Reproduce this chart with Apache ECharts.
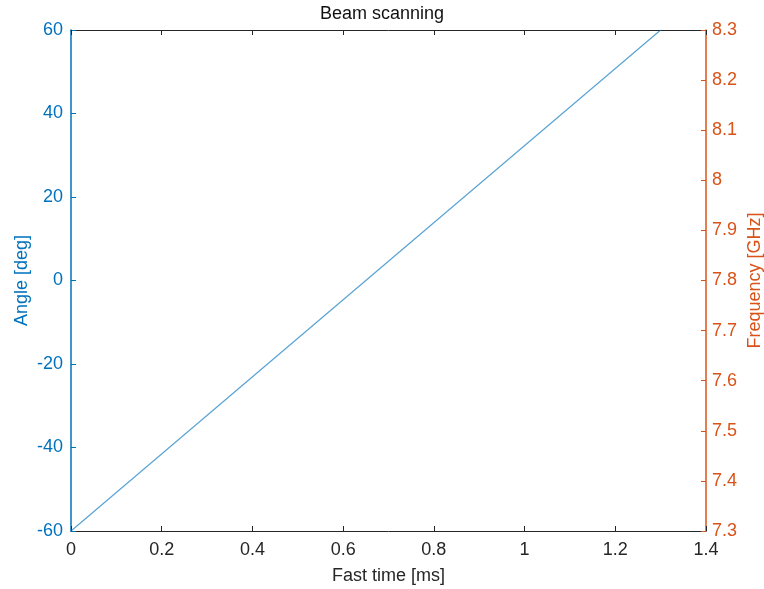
<!DOCTYPE html>
<html>
<head>
<meta charset="utf-8">
<script src="https://cdn.jsdelivr.net/npm/echarts@6/dist/echarts.min.js"></script>
<style>html,body{margin:0;padding:0;background:#fff}#chart{width:764px;height:589px}</style>
</head>
<body>
<div id="chart"></div>
<script>
// Beam steering sweep: angle vs fast time, with the matching frequency scale on the right
const fastTime = [0, 0.6, 1.3];          // ms
const angleDeg = [-60, -4.6, 60];        // deg
const angleTicks = [-60, 60, 20];        // min, max, step
const freqTicks = [7.3, 8.3, 0.1];       // GHz
const timeTicks = [0, 1.4, 0.2];         // ms

const BLUE = '#0072BD';
const ORANGE = '#D95319';
const FONT = 'Liberation Sans, Arial, Helvetica, sans-serif';
const FS = 18;
const fmt = v => String(parseFloat(Number(v).toFixed(2)));

const chart = echarts.init(document.getElementById('chart'), null, {renderer: 'canvas'});
chart.setOption({
  animation: false,
  title: {
    text: 'Beam scanning', left: 'center', top: 0,
    textStyle: {fontFamily: FONT, fontSize: FS, fontWeight: 'normal', color: '#111'}
  },
  grid: {left: 71, right: 58, top: 30, bottom: 58, outerBoundsMode: 'none', containLabel: false},
  xAxis: [{
    type: 'value', position: 'bottom', min: timeTicks[0], max: timeTicks[1], interval: timeTicks[2],
    name: 'Fast time [ms]', nameLocation: 'middle', nameGap: 36, nameMoveOverlap: false,
    nameTextStyle: {fontFamily: FONT, fontSize: FS, color: '#262626'},
    axisLine: {onZero: false, lineStyle: {color: '#262626', width: 1}},
    axisTick: {inside: true, length: 5, lineStyle: {color: '#262626'}},
    axisLabel: {fontFamily: FONT, fontSize: FS, color: '#262626', margin: 10, formatter: fmt},
    splitLine: {show: false}
  }, {
    type: 'value', position: 'top', min: timeTicks[0], max: timeTicks[1], interval: timeTicks[2],
    axisLine: {show: true, onZero: false, lineStyle: {color: '#262626', width: 1}},
    axisTick: {inside: true, length: 5, lineStyle: {color: '#262626'}},
    axisLabel: {show: false},
    splitLine: {show: false}
  }],
  yAxis: [{
    type: 'value', position: 'left', min: angleTicks[0], max: angleTicks[1], interval: angleTicks[2],
    name: 'Angle [deg]', nameLocation: 'middle', nameGap: 40, nameRotate: 90, nameMoveOverlap: false,
    nameTextStyle: {fontFamily: FONT, fontSize: FS, color: BLUE},
    axisLine: {show: true, onZero: false, lineStyle: {color: BLUE, width: 1.5}},
    axisTick: {show: true, inside: true, length: 5, lineStyle: {color: BLUE}},
    axisLabel: {fontFamily: FONT, fontSize: FS, color: BLUE, margin: 8},
    splitLine: {show: false}
  }, {
    type: 'value', position: 'right', min: freqTicks[0], max: freqTicks[1], interval: freqTicks[2],
    name: 'Frequency [GHz]', nameLocation: 'middle', nameGap: 40, nameRotate: 90, nameMoveOverlap: false,
    nameTextStyle: {fontFamily: FONT, fontSize: FS, color: ORANGE},
    axisLine: {show: true, onZero: false, lineStyle: {color: ORANGE, width: 1.5}},
    axisTick: {show: true, inside: true, length: 5, lineStyle: {color: ORANGE}},
    axisLabel: {fontFamily: FONT, fontSize: FS, color: ORANGE, margin: 6, formatter: fmt},
    splitLine: {show: false}
  }],
  series: [{
    type: 'line', xAxisIndex: 0, yAxisIndex: 0,
    data: fastTime.map((t, i) => [t, angleDeg[i]]),
    showSymbol: false, silent: true,
    lineStyle: {color: BLUE, width: 1.2, opacity: 0.65}
  }]
});
</script>
</body>
</html>
